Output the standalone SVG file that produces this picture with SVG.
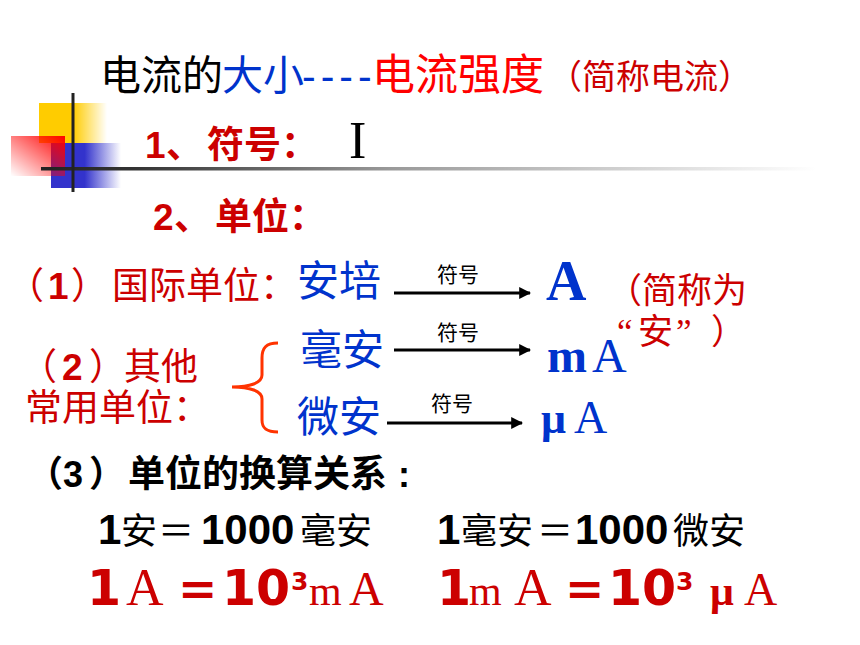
<svg xmlns="http://www.w3.org/2000/svg" width="860" height="645" viewBox="0 0 860 645">
<defs>
<linearGradient id="gY" x1="0" y1="0" x2="1" y2="0"><stop offset="0" stop-color="#ffcc00"/><stop offset="0.5" stop-color="#ffcc00"/><stop offset="1" stop-color="#ffcc00" stop-opacity="0"/></linearGradient>
<linearGradient id="gB" x1="0" y1="0" x2="1" y2="0"><stop offset="0" stop-color="#3333cc"/><stop offset="0.48" stop-color="#3333cc"/><stop offset="1" stop-color="#3333cc" stop-opacity="0"/></linearGradient>
<linearGradient id="gR" x1="1" y1="0" x2="0" y2="1"><stop offset="0" stop-color="#ff0000"/><stop offset="1" stop-color="#ff0000" stop-opacity="0"/></linearGradient>
<linearGradient id="gL" x1="0" y1="0" x2="1" y2="0"><stop offset="0" stop-color="#222"/><stop offset="0.12" stop-color="#333"/><stop offset="0.45" stop-color="#999"/><stop offset="1" stop-color="#fff"/></linearGradient>
<marker id="arr" viewBox="0 0 10 10" refX="9" refY="5" markerWidth="4" markerHeight="4" orient="auto"><path d="M0,0 L10,5 L0,10 z" fill="#000"/></marker>
<style>
.cjk{font-family:"Noto Sans CJK SC","Liberation Sans",sans-serif}
.ar{font-family:"Liberation Sans","Noto Sans CJK SC",sans-serif;font-weight:bold}
.dash{font-family:"Liberation Sans",sans-serif;font-weight:normal}
.dv{font-family:"DejaVu Sans","Liberation Sans",sans-serif;font-weight:bold}
.ser{font-family:"Liberation Serif","Noto Sans CJK SC",serif}
.dr{fill:#cc0000}
.bl{fill:#0033cc}
.arrow{stroke:#000;stroke-width:3;fill:none;marker-end:url(#arr)}
.lbl{font-size:21px;fill:#000}
</style>
</defs>
<g id="decoration">
<rect x="39" y="103" width="68" height="40" fill="url(#gY)"/>
<rect x="51" y="143" width="70" height="45" fill="url(#gB)"/>
<rect x="11" y="136" width="54" height="40" fill="url(#gR)"/>
<rect x="41" y="167" width="775" height="3.5" fill="url(#gL)"/>
<line x1="73" y1="93" x2="73" y2="192" stroke="#222" stroke-width="3"/>
</g>
<g id="title">
<text x="100" y="90" class="cjk" font-size="41" fill="#000">电流的</text>
<text x="222" y="90" class="cjk bl" font-size="41">大小</text>
<text x="302" y="90" class="dash bl" font-size="41" letter-spacing="5">----</text>
<text x="372" y="90" class="cjk" font-size="43" fill="#ff0000">电流强度</text>
<text x="548" y="89" class="cjk dr" font-size="34">（简称电流）</text>
</g>
<g id="symbol">
<text x="145" y="158" class="ar dr" font-size="37">1</text>
<text x="166" y="158" class="cjk dr" font-size="37" font-weight="bold">、</text>
<text x="207" y="158" class="cjk dr" font-size="37" font-weight="bold">符号：</text>
<text x="349" y="158" class="ser" font-size="52" fill="#000">I</text>
</g>
<g id="unit">
<text x="153" y="230" class="ar dr" font-size="37">2</text>
<text x="174" y="230" class="cjk dr" font-size="37" font-weight="bold">、</text>
<text x="215" y="230" class="cjk dr" font-size="37" font-weight="bold">单位：</text>
</g>
<g id="si">
<text y="299" class="cjk dr" font-size="37"><tspan x="7">（</tspan><tspan x="48" class="ar">1</tspan><tspan x="71">）</tspan><tspan x="112">国际单位</tspan><tspan x="260">：</tspan></text>
<text x="297" y="296" class="cjk bl" font-size="42">安培</text>
<text x="546" y="300" class="ser bl" font-size="56" font-weight="bold">A</text>
<text x="607" y="303" class="cjk dr" font-size="35">（简称为</text>
<text y="344" class="dr" font-size="35"><tspan x="617" class="ser">“</tspan><tspan x="638" class="cjk">安</tspan><tspan x="676" class="ser">”</tspan><tspan x="711" class="cjk">）</tspan></text>
</g>
<g id="other">
<text y="380" class="cjk dr" font-size="37"><tspan x="20">（</tspan><tspan x="62" class="ar">2</tspan><tspan x="89">）</tspan><tspan x="124">其他</tspan></text>
<text x="25" y="421" class="cjk dr" font-size="37">常用单位：</text>
<text x="300" y="365" class="cjk bl" font-size="42">毫安</text>
<text y="372" class="ser bl" font-size="48"><tspan x="547" font-weight="bold">m</tspan><tspan x="592">A</tspan></text>
<text x="297" y="432" class="cjk bl" font-size="42">微安</text>
<text y="433" class="ser bl" font-size="46"><tspan x="541" font-weight="bold" font-size="44">μ</tspan><tspan x="574">A</tspan></text>
</g>
<g id="connectors">
<path d="M278,343 C266,343 262,348 262,358 L262,375 C262,383 250,387 232,387 C250,387 262,391 262,399 L262,420 C262,428 266,432 278,432" stroke="#ff3300" stroke-width="3" fill="none"/>
<line x1="394" y1="293" x2="530" y2="293" class="arrow"/>
<line x1="394" y1="350" x2="530" y2="350" class="arrow"/>
<line x1="387" y1="423" x2="522" y2="423" class="arrow"/>
<text x="437" y="282" class="cjk lbl">符号</text>
<text x="437" y="340" class="cjk lbl">符号</text>
<text x="431" y="411" class="cjk lbl">符号</text>
</g>
<g id="conversion">
<text y="487" class="cjk" font-size="36" fill="#000" font-weight="bold"><tspan x="27">（</tspan><tspan x="63" class="ar">3</tspan><tspan x="89">）</tspan><tspan x="128" font-size="37">单位的换算关系</tspan><tspan x="398" class="ar">:</tspan></text>
<text y="544" class="cjk" font-size="36" fill="#000"><tspan x="98" class="ar" font-size="42">1</tspan><tspan x="121">安</tspan><tspan x="158">＝</tspan><tspan x="201" class="ar" font-size="42">1000</tspan><tspan x="300">毫安</tspan></text>
<text y="544" class="cjk" font-size="36" fill="#000"><tspan x="437" class="ar" font-size="42">1</tspan><tspan x="461">毫安</tspan><tspan x="537">＝</tspan><tspan x="575" class="ar" font-size="42">1000</tspan><tspan x="673">微安</tspan></text>
</g>
<g id="formula">
<text y="605" class="dr" font-size="49"><tspan x="87" class="dv">1</tspan><tspan x="126" class="ser" font-size="52">A</tspan><tspan x="178" class="dv" font-size="47">=</tspan><tspan x="222" class="dv">10</tspan><tspan x="291" y="590" class="dv" font-size="25">3</tspan><tspan x="309" y="605" class="ser" font-size="42">m</tspan><tspan x="349" class="ser" font-size="48">A</tspan></text>
<text y="605" class="dr" font-size="49"><tspan x="437" class="dv">1</tspan><tspan x="469" class="ser" font-size="42">m</tspan><tspan x="514" class="ser" font-size="52">A</tspan><tspan x="565" class="dv" font-size="47">=</tspan><tspan x="608" class="dv">10</tspan><tspan x="676" y="590" class="dv" font-size="25">3</tspan><tspan x="710" y="605" class="ser" font-size="42" font-weight="bold">μ</tspan><tspan x="744" class="ser" font-size="46">A</tspan></text>
</g>
</svg>
